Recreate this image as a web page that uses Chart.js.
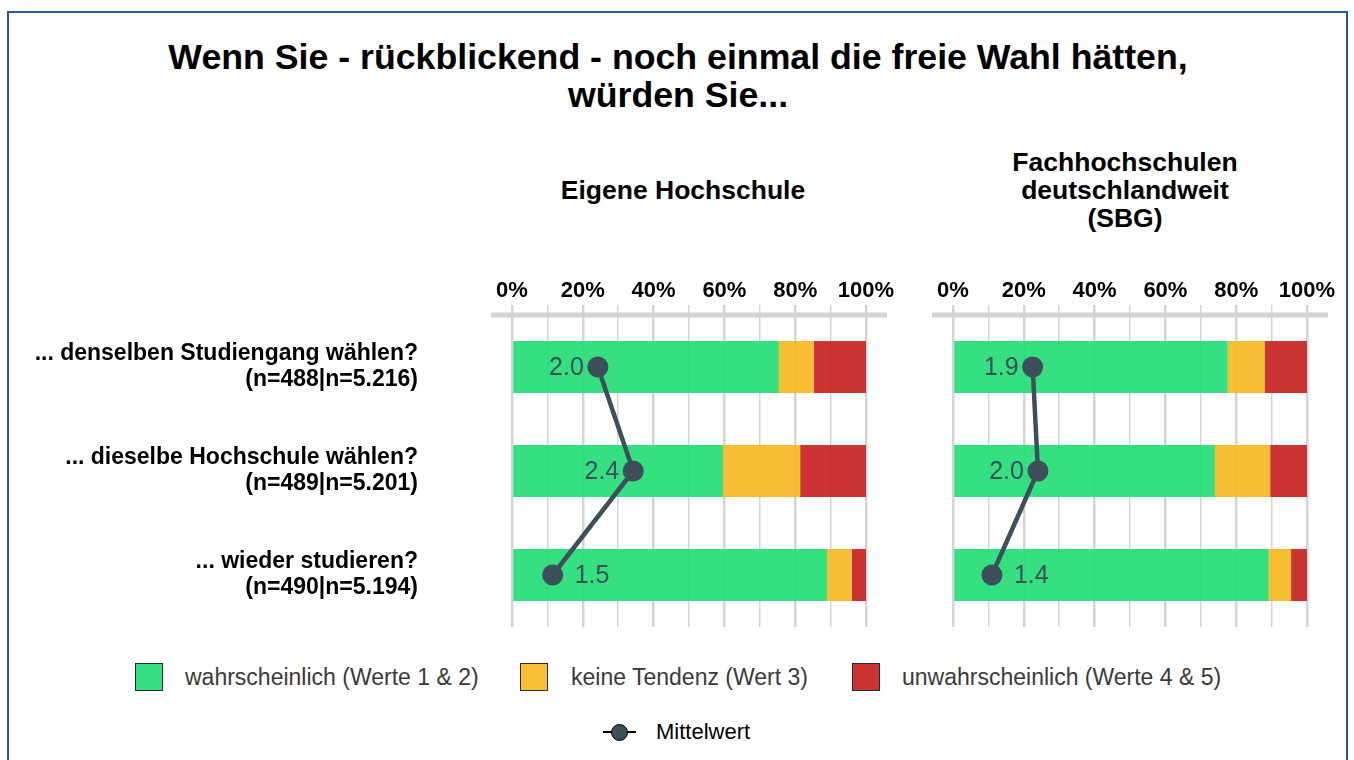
<!DOCTYPE html>
<html>
<head>
<meta charset="utf-8">
<script src="https://cdn.jsdelivr.net/npm/chart.js@4"></script>
<style>
  html, body { margin:0; padding:0; background:#fff; width:1354px; height:760px; overflow:hidden; font-family:"Liberation Sans", Arial, sans-serif; }
  #frame { position:absolute; left:7px; top:11px; width:1337px; height:800px; border:2px solid #2e5596; }
  .abs { position:absolute; }
  #title { left:0; width:1356px; top:38px; text-align:center; font-weight:bold; font-size:35.7px; line-height:38px; color:#000; }
  .ptitle { font-weight:bold; font-size:26.5px; line-height:28px; text-align:center; color:#000; width:400px; }
  .sw { position:absolute; width:26px; height:26px; border:1.5px solid #2b2b2b; top:663px; }
  .lt { position:absolute; top:663px; font-size:23px; line-height:28px; color:#3a3a3a; }
</style>
</head>
<body>
<div id="frame"></div>
<div id="title" class="abs">Wenn Sie - rückblickend - noch einmal die freie Wahl hätten,<br>würden Sie...</div>
<div class="abs ptitle" style="left:483px; top:176px;">Eigene Hochschule</div>
<div class="abs ptitle" style="left:925px; top:148px;">Fachhochschulen<br>deutschlandweit<br>(SBG)</div>
<canvas id="c1" class="abs" style="left:0px; top:270px;"></canvas>
<canvas id="c2" class="abs" style="left:900px; top:270px;"></canvas>
<div id="legend"></div>
<div class="abs" style="left:603px; top:731px; width:33px; height:2px; background:#000;"></div>
<div class="abs" style="left:611px; top:724px; width:15px; height:15px; border-radius:50%; background:#3d4f5b; border:1.5px solid #000;"></div>
<div class="abs" style="left:656px; top:718px; font-size:22px; line-height:28px; color:#000;">Mittelwert</div>
<script>
// ---- data ----
const categories = [
  ["... denselben Studiengang wählen?", "(n=488|n=5.216)"],
  ["... dieselbe Hochschule wählen?", "(n=489|n=5.201)"],
  ["... wieder studieren?", "(n=490|n=5.194)"]
];
const seriesNames = ["wahrscheinlich (Werte 1 & 2)", "keine Tendenz (Wert 3)", "unwahrscheinlich (Werte 4 & 5)"];
const meanName = "Mittelwert";
const panelTitles = ["Eigene Hochschule", "Fachhochschulen deutschlandweit (SBG)"];
const tickValues = [0, 20, 40, 60, 80, 100];

const ownLikely    = [75.4, 59.6, 89.0];
const ownNeutral   = [9.8, 21.8, 7.0];
const ownUnlikely  = [14.8, 18.6, 4.0];
const ownMean      = [1.97, 2.37, 1.46];

const fhLikely     = [77.6, 74.0, 89.2];
const fhNeutral    = [10.4, 15.6, 6.3];
const fhUnlikely   = [12.0, 10.4, 4.5];
const fhMean       = [1.90, 1.96, 1.44];

// ---- styles ----
const colors = ["rgba(38,222,118,0.93)", "rgba(248,185,36,0.93)", "rgba(201,36,36,0.93)"];
const meanColor = "#3d4f5b";
const FONT = '"Liberation Sans", Arial, sans-serif';

// legend (HTML)
const legendPos = [[135,185],[520,571],[852,902]];
const solid = ["#35e07f", "#f9be33", "#cd3333"];
const lg = document.getElementById('legend');
seriesNames.forEach((n, i) => {
  const s = document.createElement('div'); s.className = 'sw';
  s.style.left = legendPos[i][0] + 'px'; s.style.background = solid[i];
  const t = document.createElement('div'); t.className = 'lt';
  t.style.left = legendPos[i][1] + 'px'; t.textContent = n;
  lg.appendChild(s); lg.appendChild(t);
});

const axisLinePlugin = {
  id: 'axisLine',
  beforeDatasetsDraw(chart) {
    const { ctx, chartArea } = chart;
    ctx.save();
    ctx.strokeStyle = '#d3d3d3';
    ctx.lineWidth = 5;
    ctx.beginPath();
    ctx.moveTo(chartArea.left - 21, chartArea.top);
    ctx.lineTo(chartArea.right + 21, chartArea.top);
    ctx.stroke();
    ctx.restore();
  }
};

const meanLabelPlugin = {
  id: 'meanLabels',
  afterDatasetsDraw(chart) {
    const { ctx, chartArea } = chart;
    const idx = chart.data.datasets.findIndex(d => d.type === 'line');
    const meta = chart.getDatasetMeta(idx);
    const vals = chart.data.datasets[idx].data;
    ctx.save();
    ctx.font = '25px ' + FONT;
    ctx.fillStyle = meanColor;
    ctx.textBaseline = 'middle';
    meta.data.forEach((pt, i) => {
      const txt = vals[i].toFixed(1);
      if (pt.x - chartArea.left < 60) {
        ctx.textAlign = 'left';
        ctx.fillText(txt, pt.x + 22, pt.y + 1);
      } else {
        ctx.textAlign = 'right';
        ctx.fillText(txt, pt.x - 14, pt.y + 1);
      }
    });
    ctx.restore();
  }
};

function makeChart(id, w, likely, neutral, unlikely, mean, showY, padL, padR, yWidth) {
  const el = document.getElementById(id);
  el.width = w; el.height = 370;
  el.style.width = w + 'px'; el.style.height = '370px';
  return new Chart(el, {
    type: 'bar',
    data: {
      labels: categories,
      datasets: [
        { type: 'line', label: meanName, data: mean, xAxisID: 'xm', yAxisID: 'y', order: 0,
          borderColor: meanColor, borderWidth: 4.5, pointRadius: 10.5, pointBackgroundColor: meanColor,
          pointBorderColor: meanColor, pointBorderWidth: 0, tension: 0, fill: false },
        { label: seriesNames[0], data: likely, backgroundColor: colors[0], order: 1, xAxisID: 'x' },
        { label: seriesNames[1], data: neutral, backgroundColor: colors[1], order: 1, xAxisID: 'x' },
        { label: seriesNames[2], data: unlikely, backgroundColor: colors[2], order: 1, xAxisID: 'x' }
      ]
    },
    options: {
      indexAxis: 'y',
      responsive: false,
      animation: false,
      maintainAspectRatio: false,
      barPercentage: 0.5,
      categoryPercentage: 1.0,
      layout: { padding: { left: padL, right: padR, top: 0, bottom: 13 } },
      plugins: { legend: { display: false }, tooltip: { enabled: false }, title: { display: false } },
      scales: {
        x: {
          type: 'linear', position: 'top', stacked: true, min: 0, max: 100,
          afterBuildTicks(scale) { scale.ticks = []; for (let v = 0; v <= 100; v += 10) scale.ticks.push({ value: v }); },
          afterFit(scale) { scale.height = 45; },
          border: { display: false },
          grid: {
            color: '#d4d4d4',
            lineWidth: (c) => (c.tick && tickValues.includes(c.tick.value)) ? 2.5 : 1.5,
            tickLength: 10, drawTicks: true
          },
          ticks: {
            autoSkip: false, maxRotation: 0, padding: 1, color: '#000',
            font: { family: FONT, size: 22, weight: 'bold' },
            callback: (v) => tickValues.includes(v) ? v + '%' : ''
          }
        },
        xm: { type: 'linear', min: 1, max: 5, display: false },
        y: {
          type: 'category', stacked: true, display: showY,
          afterFit(scale) {
            if (showY) scale.width = yWidth;
            scale.paddingTop = 0; scale.paddingBottom = 0;
          },
          grid: { display: false, drawTicks: true, tickLength: 94 },
          border: { display: false },
          ticks: { color: '#000', padding: 0, font: { family: FONT, size: 23, weight: 'bold', lineHeight: 26/23 } }
        }
      }
    },
    plugins: [axisLinePlugin, meanLabelPlugin]
  });
}

makeChart('c1', 900, ownLikely, ownNeutral, ownUnlikely, ownMean, true, 0, 34, 512);
makeChart('c2', 440, fhLikely, fhNeutral, fhUnlikely, fhMean, false, 53, 33, 0);
</script>
</body>
</html>
